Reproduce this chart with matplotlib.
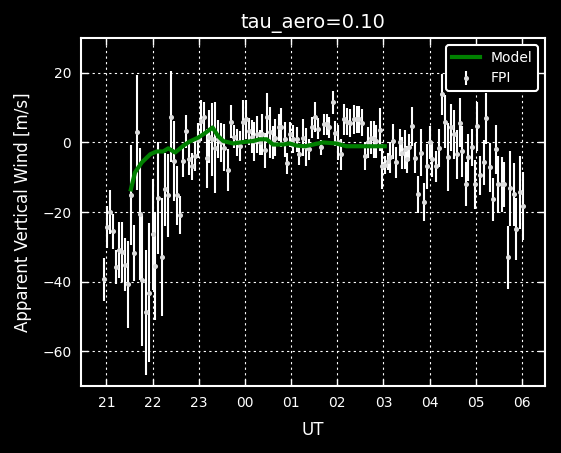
import matplotlib
matplotlib.use("Agg")
import matplotlib.pyplot as plt
from matplotlib.ticker import FuncFormatter
import numpy as np

# FPI vertical wind (UT hours, past midnight shown as 24+)
fpi_time = [20.95, 21.02, 21.08, 21.14, 21.21, 21.27, 21.34, 21.40, 21.47, 21.53,
            21.60, 21.66, 21.73, 21.78, 21.86, 21.92, 22.00, 22.05, 22.12, 22.20,
            22.27, 22.34, 22.40, 22.46, 22.53, 22.59, 22.66, 22.72, 22.79, 22.85,
            22.91, 22.98, 23.05, 23.11, 23.17, 23.23, 23.29, 23.36, 23.42, 23.49,
            23.55, 23.63, 23.70, 23.76, 23.83, 23.89, 23.96, 24.02, 24.09, 24.15,
            24.20, 24.26, 24.32, 24.38, 24.43, 24.48, 24.54, 24.60, 24.66, 24.73,
            24.79, 24.86, 24.92, 24.98, 25.05, 25.12, 25.17, 25.25, 25.32, 25.39,
            25.46, 25.51, 25.59, 25.64, 25.71, 25.77, 25.83, 25.90, 25.96, 26.02,
            26.09, 26.15, 26.21, 26.27, 26.36, 26.42, 26.47, 26.54, 26.60, 26.67,
            26.73, 26.79, 26.85, 26.92, 26.98, 27.04, 27.10, 27.15, 27.21, 27.28,
            27.35, 27.41, 27.47, 27.51, 27.55, 27.62, 27.68, 27.75, 27.81, 27.87,
            27.94, 28.00, 28.06, 28.13, 28.20, 28.26, 28.33, 28.40, 28.46, 28.52,
            28.59, 28.65, 28.71, 28.78, 28.84, 28.91, 28.98, 29.03, 29.10, 29.17,
            29.23, 29.30, 29.37, 29.43, 29.49, 29.56, 29.62, 29.69, 29.75, 29.82,
            29.88, 29.95, 30.02]
fpi_wind = [-39.4, -24.4, -20.0, -25.5, -35.8, -30.9, -31.5, -35.2, -40.7, -15.2,
            -31.8, 2.9, -20.6, -39.5, -48.8, -43.2, -26.4, -35.6, -16.0, -33.0,
            -13.5, -15.2, 7.4, -5.4, -15.2, -20.9, -5.4, 3.2, -4.9, -6.9,
            -4.0, 0.6, 6.3, 7.2, -4.6, 1.7, 0.9, -1.5, 0.9, 0.0,
            -1.5, -8.0, 6.0, 1.7, 0.0, -1.0, 6.0, 6.6, 3.2, 1.7,
            0.3, 2.3, 0.0, 2.3, -2.3, 7.2, 2.9, 0.0, 1.4, 4.3,
            4.3, 0.9, -6.0, 2.3, 0.9, 0.9, -3.4, 1.4, -1.4, -2.0,
            4.3, 7.4, 4.0, -1.4, 5.2, 5.2, 4.3, 11.5, 2.6, 0.0,
            -3.4, 6.6, 6.0, 5.7, 6.6, 6.6, 6.6, 5.7, -4.0, 0.0,
            1.4, 0.9, 0.3, 3.7, -6.9, -6.6, -5.4, -4.3, 0.3, -5.7,
            0.0, -3.0, -2.0, -4.9, -1.4, 4.6, -4.6, -14.9, -2.9, -17.2,
            -6.9, 0.0, -4.9, -6.9, -1.7, 13.8, 6.0, -4.3, 4.3, 2.3,
            -3.4, 5.7, -2.6, -12.0, -4.3, -1.4, -12.0, 4.6, -9.5, -5.7,
            6.9, -7.2, -16.3, -2.0, -12.0, -12.0, -12.0, -33.0, -13.2, -14.9,
            -24.9, -14.3, -18.3]
fpi_err = [6.2, 6.0, 6.3, 5.0, 4.8, 8.0, 8.6, 7.6, 12.5, 14.4,
           8.0, 16.5, 19.0, 19.0, 18.0, 20.0, 16.0, 15.5, 16.0, 17.0,
           10.5, 12.0, 13.0, 11.5, 8.4, 5.5, 4.5, 4.8, 4.5, 3.8,
           4.3, 5.0, 6.0, 4.5, 8.4, 7.6, 10.5, 13.0, 5.5, 5.5,
           6.7, 6.0, 4.8, 3.3, 4.0, 4.3, 6.2, 5.5, 3.8, 4.8,
           5.7, 5.3, 3.6, 6.0, 5.0, 7.0, 7.4, 4.8, 5.3, 3.8,
           5.5, 5.0, 3.1, 3.6, 4.0, 3.6, 3.0, 5.3, 5.5, 3.1,
           3.1, 4.3, 2.9, 2.1, 3.1, 3.1, 3.1, 3.4, 3.6, 5.0,
           4.5, 4.5, 4.0, 4.0, 4.3, 3.8, 3.8, 3.8, 4.0, 4.5,
           4.8, 5.3, 4.8, 6.2, 6.4, 2.6, 2.4, 4.5, 5.0, 4.5,
           3.8, 4.5, 5.7, 4.0, 3.8, 5.7, 4.3, 5.3, 6.7, 5.5,
           6.4, 4.8, 5.0, 4.5, 5.5, 6.0, 7.6, 9.8, 6.7, 7.0,
           7.0, 7.0, 7.4, 6.4, 6.7, 5.3, 7.0, 7.0, 5.5, 6.4,
           7.4, 7.0, 6.2, 7.0, 8.2, 7.9, 6.5, 9.0, 10.7, 9.0,
           8.8, 10.5, 9.8]

# model curve
model_time = [21.53, 21.62, 21.77, 21.95, 22.09, 22.23, 22.34, 22.49, 22.67, 22.81,
              22.99, 23.13, 23.30, 23.42, 23.53, 23.75, 23.96, 24.18, 24.32, 24.47,
              24.61, 24.83, 24.97, 25.12, 25.30, 25.48, 25.69, 25.98, 26.20, 26.56,
              27.03]
model_wind = [-13.5, -8.6, -5.7, -3.4, -2.6, -2.6, -1.7, -2.9, -0.9, 0.3,
              1.4, 2.6, 4.3, 1.8, 0.4, -0.3, 0.1, 0.4, 0.9, 0.9,
              -0.6, -0.6, -0.3, -0.9, -1.1, -0.6, 0.0, -0.3, -1.1, -1.1,
              -1.1]

hour_ticks = np.arange(21, 31)

fig = plt.figure(figsize=(5.61, 4.53), dpi=100, facecolor="black")
ax = fig.add_axes([0.1444, 0.148, 0.827, 0.768], facecolor="black")

ax.plot(model_time, model_wind, color="green", lw=3, label="Model", zorder=3)
ax.errorbar(fpi_time, fpi_wind, yerr=fpi_err, fmt="o", color="white",
            ecolor="white", elinewidth=1.5, markersize=2.6, mfc="#dddddd",
            mec="#dddddd", capsize=0, label="FPI", zorder=2)

ax.set_xlim(20.45, 30.5)
ax.set_ylim(-70, 30)
ax.set_xticks(hour_ticks)
ax.xaxis.set_major_formatter(FuncFormatter(lambda v, p: "%02d" % (int(round(v)) % 24)))
ax.set_yticks([-60, -40, -20, 0, 20])

ax.grid(True, color="white", linestyle=(0, (2, 3)), linewidth=0.8)
ax.tick_params(direction="in", colors="white", labelsize=10, length=5, width=1,
               top=True, right=True, pad=7)
for s in ax.spines.values():
    s.set_color("white")
    s.set_linewidth(1.5)

ax.set_title("tau_aero=0.10", color="white", fontsize=14, pad=7)
ax.set_xlabel("UT", color="white", fontsize=12, labelpad=8)
ax.set_ylabel("Apparent Vertical Wind [m/s]", color="white", fontsize=12,
              labelpad=7)

leg = ax.legend(loc="upper right", fontsize=10, facecolor="black",
                edgecolor="white", framealpha=1, fancybox=True,
                borderaxespad=0.5)
leg.get_frame().set_linewidth(1.5)
for t in leg.get_texts():
    t.set_color("white")

fig.savefig("out.png", dpi=100, facecolor="black")
